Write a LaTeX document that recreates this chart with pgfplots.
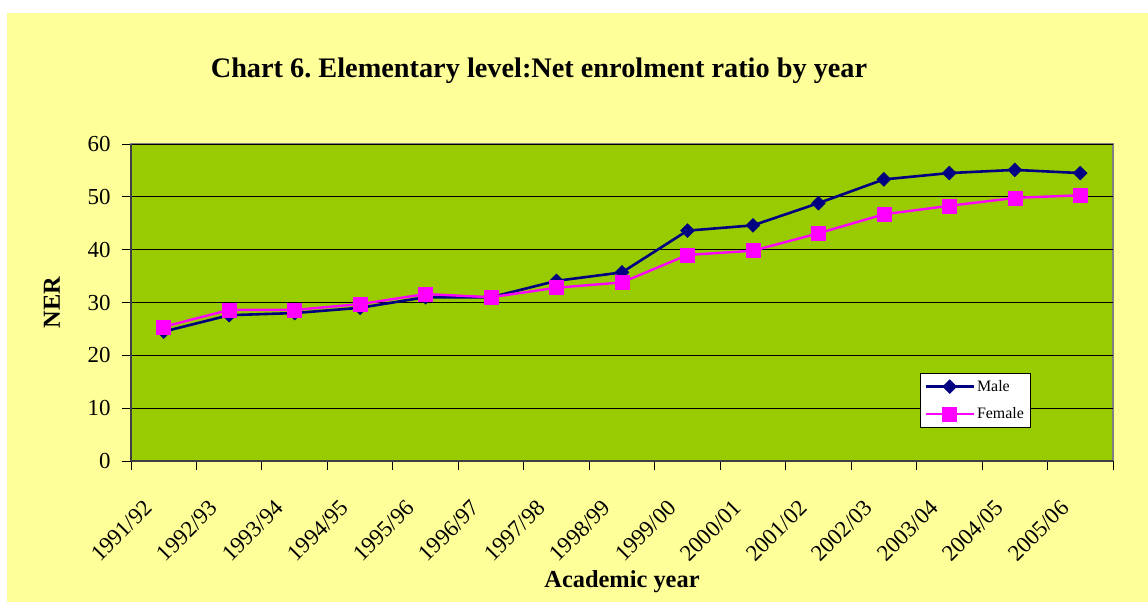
\documentclass[border=0pt]{standalone}
\usepackage{pgfplots}
\pgfplotsset{compat=1.18}
\usepackage{fontspec}
\setmainfont{Liberation Serif}
\definecolor{bgyellow}{HTML}{FFFF99}
\definecolor{plotgreen}{HTML}{99CC00}
\definecolor{malenavy}{HTML}{000080}
\definecolor{femalemag}{HTML}{FF00FF}
\begin{document}
\begin{tikzpicture}
\fill[white] (-131bp,-141bp) rectangle (1017bp,461bp);
\fill[bgyellow] (-124bp,-141bp) rectangle (1017bp,448bp);
\begin{axis}[
  at={(0bp,0bp)}, anchor=south west,
  scale only axis, width=982bp, height=317bp,
  xmin=0, xmax=15, ymin=0, ymax=60,
  enlargelimits=false,
  axis lines=left,
  axis line style={-, draw=black!75, line width=1.2bp},
  axis background/.style={fill=plotgreen, draw=gray, line width=1.5bp},
  tick align=outside,
  major tick length=9bp,
  tick style={black, line width=0.9bp},
  xtick={0,...,15},
  x tick label as interval,
  xticklabels={1991/92,1992/93,1993/94,1994/95,1995/96,1996/97,1997/98,1998/99,1999/00,2000/01,2001/02,2002/03,2003/04,2004/05,2005/06},
  x tick label style={font=\fontsize{23}{26}\selectfont, rotate=45, anchor=north east, inner sep=1bp, xshift=-34bp, yshift=-4.5bp},
  ytick={0,10,...,60},
  y tick label style={font=\fontsize{23}{26}\selectfont, xshift=-8bp},
  /pgf/number format/assume math mode=true,
  ymajorgrids,
  major grid style={black, line width=1bp},
  xlabel={\textbf{Academic year}},
  xlabel style={at={(rel axis cs:0.5,0)}, anchor=base, yshift=-126bp, font=\fontsize{24.5}{28}\selectfont},
  ylabel={\textbf{NER}},
  ylabel style={at={(rel axis cs:0,0.5)}, anchor=center, yshift=79bp, font=\fontsize{24.5}{28}\selectfont},
  legend style={at={(rel axis cs:0.8035,0.2776)}, anchor=north west, draw=black, fill=white, line width=0.8bp,
    font=\fontsize{16}{18}\selectfont, inner xsep=4bp, inner ysep=5bp, row sep=11bp, cells={anchor=west}},
  legend image code/.code={\draw[#1,mark repeat=2,mark phase=2] plot coordinates {(0bp,0bp) (24bp,0bp) (48bp,0bp)};},
  clip=false,
]
\addplot[malenavy, line width=2.6bp, mark=square*, mark size=4.9bp, mark options={rotate=45, fill=malenavy, draw=malenavy, line width=0.5bp}]
  coordinates {(0.5,24.5) (1.5,27.6) (2.5,28.0) (3.5,29.0) (4.5,31.0) (5.5,31.0) (6.5,34.1) (7.5,35.7) (8.5,43.6) (9.5,44.6) (10.5,48.8) (11.5,53.3) (12.5,54.5) (13.5,55.1) (14.5,54.5)};
\addlegendentry{Male}
\addplot[femalemag, line width=2.4bp, mark=square*, mark size=7bp, mark options={fill=femalemag, draw=femalemag, line width=0.5bp}]
  coordinates {(0.5,25.4) (1.5,28.6) (2.5,28.6) (3.5,29.7) (4.5,31.6) (5.5,31.0) (6.5,32.8) (7.5,33.8) (8.5,39.0) (9.5,39.8) (10.5,43.1) (11.5,46.7) (12.5,48.3) (13.5,49.8) (14.5,50.3)};
\addlegendentry{Female}
\end{axis}
\node[anchor=base, font=\fontsize{28.4}{32}\selectfont\bfseries] at (408bp,383bp) {Chart 6.\ Elementary level:Net enrolment ratio by year};
\pgfresetboundingbox
\path (-131bp,-141bp) rectangle (1017bp,461bp);
\end{tikzpicture}
\end{document}
